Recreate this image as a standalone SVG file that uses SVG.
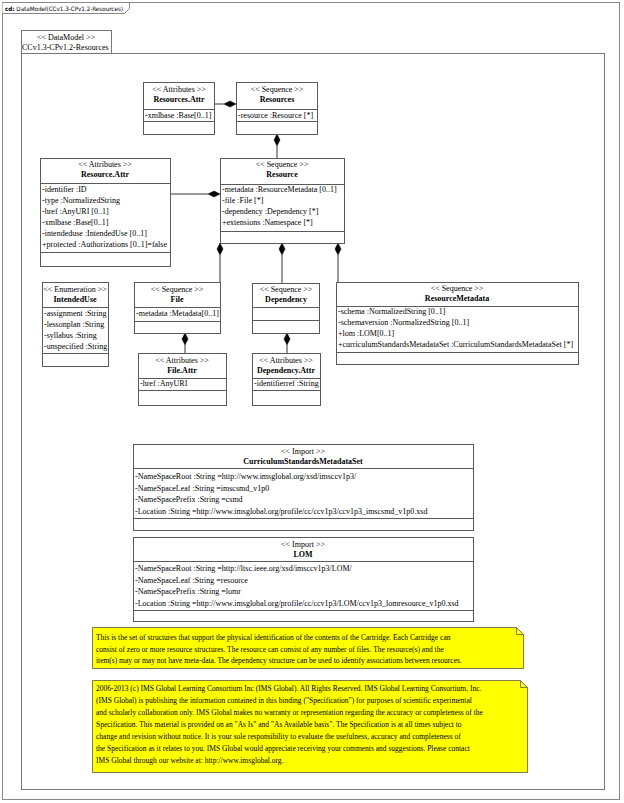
<svg xmlns="http://www.w3.org/2000/svg" width="624" height="803" viewBox="0 0 624 803">
<style>
.box{fill:#fff;stroke:#5a5a5a;stroke-width:1}
.sep{stroke:#5a5a5a;stroke-width:1}
.st{font-family:"Liberation Serif",serif;font-size:8px;text-anchor:middle;fill:#000}
.nm{font-family:"Liberation Serif",serif;font-size:8px;font-weight:bold;text-anchor:middle;fill:#000}
.at{font-family:"Liberation Serif",serif;font-size:8px;fill:#000}
.nt{font-family:"Liberation Serif",serif;font-size:7.5px;fill:#000}
.note{fill:#ffff00;stroke:#7f7f3f;stroke-width:1}
.ln{stroke:#333;stroke-width:1;fill:none}
.dia{fill:#000;stroke:#000;stroke-width:0.5}
</style>
<rect width="624" height="803" fill="#fff"/>
<!-- outer frame -->
<rect x="2.5" y="2.5" width="617" height="797" fill="none" stroke="#888"/>
<path d="M2.5,2.5 H129.5 V8.5 L124.5,13.5 H2.5" fill="#fff" stroke="#888"/>
<text x="5" y="10.5" font-family="'DejaVu Sans',sans-serif" font-size="6px" textLength="118" lengthAdjust="spacingAndGlyphs"><tspan font-weight="bold">cd:</tspan> DataModel(CCv1.3-CPv1.2-Resources)</text>

<!-- package -->
<g id="package">
<rect x="21.5" y="30.5" width="90" height="23" fill="#fff" stroke="#777"/>
<rect x="21.5" y="53.5" width="583" height="736" fill="none" stroke="#777"/>
<text class="st" x="66" y="40">&lt;&lt; DataModel &gt;&gt;</text>
<text class="at" x="22" y="50">CCv1.3-CPv1.2-Resources</text>
</g>

<g id="connectors">
<line class="ln" x1="214" y1="104" x2="224" y2="104"/>
<polygon class="dia" points="236,104 230,101 224,104 230,107"/>
<line class="ln" x1="277" y1="146" x2="277" y2="158"/>
<polygon class="dia" points="277,134 280,140 277,146 274,140"/>
<line class="ln" x1="170" y1="194" x2="208" y2="194"/>
<polygon class="dia" points="220,194 214,191 208,194 214,197"/>
<line class="ln" x1="220" y1="255" x2="220" y2="282"/>
<polygon class="dia" points="220,243 223,249 220,255 217,249"/>
<line class="ln" x1="282" y1="255" x2="282" y2="283"/>
<polygon class="dia" points="282,243 285,249 282,255 279,249"/>
<line class="ln" x1="338" y1="255" x2="338" y2="282"/>
<polygon class="dia" points="338,243 341,249 338,255 335,249"/>
<line class="ln" x1="185" y1="345" x2="185" y2="353"/>
<polygon class="dia" points="185,333 188,339 185,345 182,339"/>
<line class="ln" x1="287" y1="345" x2="287" y2="353"/>
<polygon class="dia" points="287,333 290,339 287,345 284,339"/>
</g>

<g id="ResourcesAttr">
<rect class="box" x="143.5" y="82.5" width="71" height="52"/>
<line class="sep" x1="143.5" y1="109.5" x2="214.5" y2="109.5"/>
<line class="sep" x1="143.5" y1="121.5" x2="214.5" y2="121.5"/>
<text class="st" x="179" y="92">&lt;&lt; Attributes  &gt;&gt;</text>
<text class="nm" x="179" y="102">Resources.Attr</text>
<text class="at" x="145" y="118">-xmlbase :Base[0..1]</text>
</g>

<g id="Resources">
<rect class="box" x="236.5" y="82.5" width="81" height="52"/>
<line class="sep" x1="236.5" y1="109.5" x2="317.5" y2="109.5"/>
<line class="sep" x1="236.5" y1="121.5" x2="317.5" y2="121.5"/>
<text class="st" x="277" y="92">&lt;&lt; Sequence &gt;&gt;</text>
<text class="nm" x="277" y="102">Resources</text>
<text class="at" x="238" y="118">-resource :Resource [*]</text>
</g>

<g id="ResourceAttr">
<rect class="box" x="40.5" y="158.5" width="130" height="108"/>
<line class="sep" x1="40.5" y1="183.5" x2="170.5" y2="183.5"/>
<line class="sep" x1="40.5" y1="252.5" x2="170.5" y2="252.5"/>
<text class="st" x="105" y="167">&lt;&lt; Attributes  &gt;&gt;</text>
<text class="nm" x="105" y="177">Resource.Attr</text>
<text class="at" x="42" y="192">-identifier  :ID</text>
<text class="at" x="42" y="203">-type :NormalizedString</text>
<text class="at" x="42" y="214">-href :AnyURI [0..1]</text>
<text class="at" x="42" y="225">-xmlbase :Base[0..1]</text>
<text class="at" x="42" y="236">-intendeduse  :IntendedUse [0..1]</text>
<text class="at" x="42" y="247">+protected :Authorizations  [0..1]=false</text>
</g>

<g id="Resource">
<rect class="box" x="220.5" y="158.5" width="124" height="85"/>
<line class="sep" x1="220.5" y1="184.5" x2="344.5" y2="184.5"/>
<line class="sep" x1="220.5" y1="231.5" x2="344.5" y2="231.5"/>
<text class="st" x="282" y="167">&lt;&lt; Sequence &gt;&gt;</text>
<text class="nm" x="282" y="177">Resource</text>
<text class="at" x="222" y="192">-metadata :ResourceMetadata [0..1]</text>
<text class="at" x="222" y="203">-file :File [*]</text>
<text class="at" x="222" y="214">-dependency :Dependency [*]</text>
<text class="at" x="222" y="225">+extensions  :Namespace [*]</text>
</g>

<g id="IntendedUse">
<rect class="box" x="42.5" y="282.5" width="66" height="84"/>
<line class="sep" x1="42.5" y1="307.5" x2="108.5" y2="307.5"/>
<line class="sep" x1="42.5" y1="353.5" x2="108.5" y2="353.5"/>
<text class="st" x="75" y="292">&lt;&lt; Enumeration  &gt;&gt;</text>
<text class="nm" x="75" y="302">IntendedUse</text>
<text class="at" x="44" y="316">-assignment  :String</text>
<text class="at" x="44" y="327">-lessonplan  :String</text>
<text class="at" x="44" y="338">-syllabus  :String</text>
<text class="at" x="44" y="349">-unspecified  :String</text>
</g>

<g id="File">
<rect class="box" x="134.5" y="282.5" width="86" height="51"/>
<line class="sep" x1="134.5" y1="307.5" x2="220.5" y2="307.5"/>
<line class="sep" x1="134.5" y1="321.5" x2="220.5" y2="321.5"/>
<text class="st" x="177" y="292">&lt;&lt; Sequence &gt;&gt;</text>
<text class="nm" x="177" y="302">File</text>
<text class="at" x="136" y="316">-metadata :Metadata[0..1]</text>
</g>

<g id="Dependency">
<rect class="box" x="252.5" y="283.5" width="67" height="50"/>
<line class="sep" x1="252.5" y1="307.5" x2="319.5" y2="307.5"/>
<line class="sep" x1="252.5" y1="320.5" x2="319.5" y2="320.5"/>
<text class="st" x="286" y="292">&lt;&lt; Sequence &gt;&gt;</text>
<text class="nm" x="286" y="302">Dependency</text>
</g>

<g id="ResourceMetadata">
<rect class="box" x="336.5" y="282.5" width="242" height="82"/>
<line class="sep" x1="336.5" y1="306.5" x2="578.5" y2="306.5"/>
<line class="sep" x1="336.5" y1="352.5" x2="578.5" y2="352.5"/>
<text class="st" x="457" y="291">&lt;&lt; Sequence &gt;&gt;</text>
<text class="nm" x="457" y="301">ResourceMetadata</text>
<text class="at" x="338" y="314">-schema :NormalizedString  [0..1]</text>
<text class="at" x="338" y="325">-schemaversion  :NormalizedString  [0..1]</text>
<text class="at" x="338" y="336">+lom :LOM[0..1]</text>
<text class="at" x="338" y="347">+curriculumStandardsMetadataSet   :CurriculumStandardsMetadataSet   [*]</text>
</g>

<g id="FileAttr">
<rect class="box" x="138.5" y="353.5" width="88" height="52"/>
<line class="sep" x1="138.5" y1="378.5" x2="226.5" y2="378.5"/>
<line class="sep" x1="138.5" y1="390.5" x2="226.5" y2="390.5"/>
<text class="st" x="182" y="363">&lt;&lt; Attributes  &gt;&gt;</text>
<text class="nm" x="182" y="373">File.Attr</text>
<text class="at" x="140" y="386">-href :AnyURI</text>
</g>

<g id="DependencyAttr">
<rect class="box" x="252.5" y="353.5" width="68" height="52"/>
<line class="sep" x1="252.5" y1="378.5" x2="320.5" y2="378.5"/>
<line class="sep" x1="252.5" y1="390.5" x2="320.5" y2="390.5"/>
<text class="st" x="286" y="363">&lt;&lt; Attributes  &gt;&gt;</text>
<text class="nm" x="286" y="373">Dependency.Attr</text>
<text class="at" x="254" y="386">-identifierref  :String</text>
</g>

<g id="CurriculumStandardsMetadataSet">
<rect class="box" x="133.5" y="444.5" width="340" height="86"/>
<line class="sep" x1="133.5" y1="468.5" x2="473.5" y2="468.5"/>
<line class="sep" x1="133.5" y1="518.5" x2="473.5" y2="518.5"/>
<text class="st" x="303" y="454">&lt;&lt; Import &gt;&gt;</text>
<text class="nm" x="303" y="464">CurriculumStandardsMetadataSet</text>
<text class="at" x="135" y="479">-NameSpaceRoot :String =http://www.imsglobal.org/xsd/imsccv1p3/</text>
<text class="at" x="135" y="490.5">-NameSpaceLeaf :String =imscsmd_v1p0</text>
<text class="at" x="135" y="502">-NameSpacePrefix :String =csmd</text>
<text class="at" x="135" y="513.5">-Location :String =http://www.imsglobal.org/profile/cc/ccv1p3/ccv1p3_imscsmd_v1p0.xsd</text>
</g>

<g id="LOM">
<rect class="box" x="133.5" y="537.5" width="340" height="84"/>
<line class="sep" x1="133.5" y1="561.5" x2="473.5" y2="561.5"/>
<line class="sep" x1="133.5" y1="610.5" x2="473.5" y2="610.5"/>
<text class="st" x="303" y="547">&lt;&lt; Import &gt;&gt;</text>
<text class="nm" x="303" y="557">LOM</text>
<text class="at" x="135" y="571">-NameSpaceRoot :String =http://ltsc.ieee.org/xsd/imsccv1p3/LOM/</text>
<text class="at" x="135" y="582.5">-NameSpaceLeaf :String =resource</text>
<text class="at" x="135" y="594">-NameSpacePrefix :String =lomr</text>
<text class="at" x="135" y="605.5">-Location :String =http://www.imsglobal.org/profile/cc/ccv1p3/LOM/ccv1p3_lomresource_v1p0.xsd</text>
</g>

<g id="note1">
<path class="note" d="M92.5,627.5 H516.5 L523.5,634.5 V668.5 H92.5 Z"/>
<path d="M516.5,627.5 V634.5 H523.5" fill="none" stroke="#7f7f3f"/>
<text class="nt" x="96" y="640">This is the set of structures that support the physical identification of the contents of the Cartridge.  Each Cartridge can</text>
<text class="nt" x="96" y="651.5">consist of zero or more resource structures.  The resource can consist of any number of files.  The resource(s) and the</text>
<text class="nt" x="96" y="663">item(s) may or may not have meta-data.  The dependency structure can be used to identify associations between resources.</text>
</g>

<g id="note2">
<path class="note" d="M92.5,680.5 H520.5 L527.5,687.5 V772.5 H92.5 Z"/>
<path d="M520.5,680.5 V687.5 H527.5" fill="none" stroke="#7f7f3f"/>
<text class="nt" x="96" y="691">2006-2013 (c) IMS Global Learning Consortium Inc (IMS Global).  All Rights Reserved.  IMS Global Learning Consortium, Inc.</text>
<text class="nt" x="96" y="703">(IMS Global) is publishing the information contained in this binding ("Specification") for purposes of scientific experimental</text>
<text class="nt" x="96" y="715">and scholarly collaboration only.  IMS Global makes no warranty or representation regarding the accuracy or completeness of the</text>
<text class="nt" x="96" y="727">Specification.  This material is provided on an "As Is" and "As Available basis".  The Specification is at all times subject to</text>
<text class="nt" x="96" y="739">change and revision without notice.  It is your sole responsibility to evaluate the usefulness, accuracy and completeness of</text>
<text class="nt" x="96" y="751">the Specification as it relates to you.  IMS Global would appreciate receiving your comments and suggestions.  Please contact</text>
<text class="nt" x="96" y="763">IMS Global through our website at: http://www.imsglobal.org.</text>
</g>
</svg>
